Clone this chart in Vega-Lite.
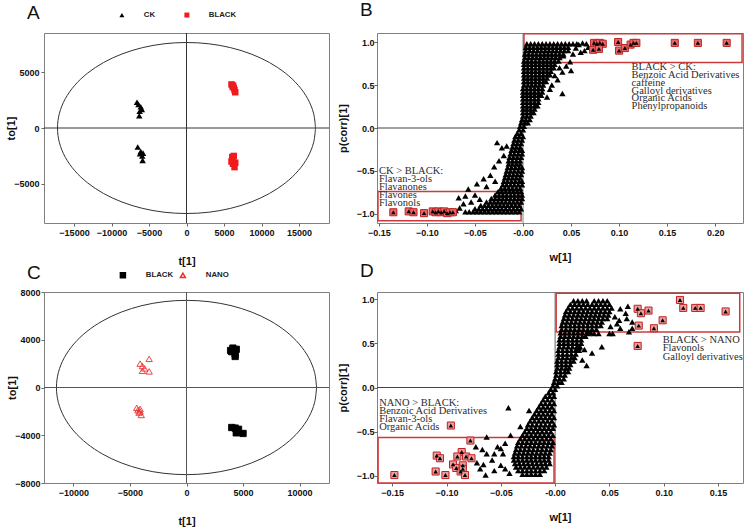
{
"$schema": "https://vega.github.io/schema/vega-lite/v6.json",
"padding": {"left": 5, "top": 0, "right": 0, "bottom": 0},
"background": "white",
"bounds": "flush",
"columns": 2,
"spacing": {"row": 69, "column": 48},
"resolve": {"scale": {"color": "independent", "shape": "independent", "fill": "independent", "stroke": "independent"}, "legend": {"color": "independent", "shape": "independent", "fill": "independent", "stroke": "independent"}},
"config": {
  "view": {"stroke": "#808080", "strokeWidth": 1},
  "axis": {"grid": false, "domain": false, "labelFont": "Liberation Sans", "labelFontWeight": "bold", "labelFontSize": 9, "labelColor": "#111", "titleFont": "Liberation Sans", "titleFontWeight": "bold", "titleFontSize": 11, "titleColor": "#111", "tickColor": "#666", "tickSize": 3, "labelPadding": 2},
  "title": {"font": "Liberation Sans", "fontSize": 19, "fontWeight": "normal", "anchor": "start", "frame": "group", "color": "#111", "offset": 0},
  "text": {"font": "Liberation Serif", "fontSize": 10.5, "color": "#2b2b2b", "align": "left", "baseline": "middle"}
},
"datasets": {
  "one": [{}],
  "ellA": [{"i":0,"x":17200,"y":0},{"i":1,"x":16939,"y":1328},{"i":2,"x":16163,"y":2616},{"i":3,"x":14895,"y":3825},{"i":4,"x":13175,"y":4917},{"i":5,"x":11056,"y":5860},{"i":6,"x":8600,"y":6625},{"i":7,"x":5882,"y":7189},{"i":8,"x":2986,"y":7534},{"i":9,"x":0,"y":7650},{"i":10,"x":-2986,"y":7534},{"i":11,"x":-5882,"y":7189},{"i":12,"x":-8600,"y":6625},{"i":13,"x":-11056,"y":5860},{"i":14,"x":-13175,"y":4917},{"i":15,"x":-14895,"y":3825},{"i":16,"x":-16163,"y":2616},{"i":17,"x":-16939,"y":1328},{"i":18,"x":-17200,"y":0},{"i":19,"x":-16939,"y":-1328},{"i":20,"x":-16163,"y":-2616},{"i":21,"x":-14895,"y":-3825},{"i":22,"x":-13175,"y":-4917},{"i":23,"x":-11056,"y":-5860},{"i":24,"x":-8600,"y":-6625},{"i":25,"x":-5882,"y":-7189},{"i":26,"x":-2986,"y":-7534},{"i":27,"x":0,"y":-7650},{"i":28,"x":2986,"y":-7534},{"i":29,"x":5882,"y":-7189},{"i":30,"x":8600,"y":-6625},{"i":31,"x":11056,"y":-5860},{"i":32,"x":13175,"y":-4917},{"i":33,"x":14895,"y":-3825},{"i":34,"x":16163,"y":-2616},{"i":35,"x":16939,"y":-1328},{"i":36,"x":17200,"y":0}],
  "ellC": [{"i":0,"x":11500,"y":0},{"i":1,"x":11325,"y":1267},{"i":2,"x":10807,"y":2497},{"i":3,"x":9959,"y":3650},{"i":4,"x":8809,"y":4692},{"i":5,"x":7392,"y":5592},{"i":6,"x":5750,"y":6322},{"i":7,"x":3933,"y":6860},{"i":8,"x":1996,"y":7189},{"i":9,"x":0,"y":7300},{"i":10,"x":-1996,"y":7189},{"i":11,"x":-3933,"y":6860},{"i":12,"x":-5750,"y":6322},{"i":13,"x":-7392,"y":5592},{"i":14,"x":-8809,"y":4692},{"i":15,"x":-9959,"y":3650},{"i":16,"x":-10807,"y":2497},{"i":17,"x":-11325,"y":1267},{"i":18,"x":-11500,"y":0},{"i":19,"x":-11325,"y":-1267},{"i":20,"x":-10807,"y":-2497},{"i":21,"x":-9959,"y":-3650},{"i":22,"x":-8809,"y":-4692},{"i":23,"x":-7392,"y":-5592},{"i":24,"x":-5750,"y":-6322},{"i":25,"x":-3933,"y":-6860},{"i":26,"x":-1996,"y":-7189},{"i":27,"x":0,"y":-7300},{"i":28,"x":1996,"y":-7189},{"i":29,"x":3933,"y":-6860},{"i":30,"x":5750,"y":-6322},{"i":31,"x":7392,"y":-5592},{"i":32,"x":8809,"y":-4692},{"i":33,"x":9959,"y":-3650},{"i":34,"x":10807,"y":-2497},{"i":35,"x":11325,"y":-1267},{"i":36,"x":11500,"y":0}],
  "ptsA": [{"x":-6600,"y":2300,"g":"CK"},{"x":-6400,"y":2100,"g":"CK"},{"x":-6100,"y":1900,"g":"CK"},{"x":-5950,"y":1650,"g":"CK"},{"x":-6250,"y":1500,"g":"CK"},{"x":-6300,"y":1100,"g":"CK"},{"x":-6500,"y":-1700,"g":"CK"},{"x":-6100,"y":-2100,"g":"CK"},{"x":-5800,"y":-2250,"g":"CK"},{"x":-5900,"y":-2500,"g":"CK"},{"x":-5850,"y":-2900,"g":"CK"},{"x":-6200,"y":-2300,"g":"CK"},{"x":6000,"y":3900,"g":"BLACK"},{"x":6200,"y":3800,"g":"BLACK"},{"x":6300,"y":3600,"g":"BLACK"},{"x":6400,"y":3400,"g":"BLACK"},{"x":6500,"y":3200,"g":"BLACK"},{"x":6150,"y":3700,"g":"BLACK"},{"x":6100,"y":-2600,"g":"BLACK"},{"x":6300,"y":-2500,"g":"BLACK"},{"x":6000,"y":-3000,"g":"BLACK"},{"x":6200,"y":-3200,"g":"BLACK"},{"x":6500,"y":-3100,"g":"BLACK"},{"x":6400,"y":-3500,"g":"BLACK"},{"x":6150,"y":-2900,"g":"BLACK"}],
  "ptsC": [{"x":3900,"y":3100,"g":"BLACK"},{"x":4100,"y":3300,"g":"BLACK"},{"x":4400,"y":3200,"g":"BLACK"},{"x":4300,"y":2800,"g":"BLACK"},{"x":4300,"y":2600,"g":"BLACK"},{"x":4000,"y":3000,"g":"BLACK"},{"x":4000,"y":-3350,"g":"BLACK"},{"x":4300,"y":-3400,"g":"BLACK"},{"x":4500,"y":-3600,"g":"BLACK"},{"x":4400,"y":-3800,"g":"BLACK"},{"x":5000,"y":-3850,"g":"BLACK"},{"x":4600,"y":-3500,"g":"BLACK"},{"x":-4100,"y":2000,"g":"NANO"},{"x":-3900,"y":1800,"g":"NANO"},{"x":-3700,"y":1600,"g":"NANO"},{"x":-3900,"y":1400,"g":"NANO"},{"x":-3300,"y":2400,"g":"NANO"},{"x":-3300,"y":1350,"g":"NANO"},{"x":-4400,"y":-1700,"g":"NANO"},{"x":-4100,"y":-1800,"g":"NANO"},{"x":-4200,"y":-2100,"g":"NANO"},{"x":-4000,"y":-2300,"g":"NANO"},{"x":-4300,"y":-1900,"g":"NANO"},{"x":-4100,"y":-2000,"g":"NANO"}],
  "bBlack": [
{"x":-0.003,"y":0.02},{"x":0.001,"y":0.02},
{"x":-0.002,"y":0.06},{"x":0.002,"y":0.06},{"x":0.005,"y":0.06},
{"x":-0.001,"y":0.1},{"x":0.003,"y":0.1},{"x":0.007,"y":0.1},
{"x":0,"y":0.14},{"x":0.004,"y":0.14},{"x":0.008,"y":0.14},
{"x":0,"y":0.18},{"x":0.004,"y":0.18},{"x":0.008,"y":0.18},{"x":0.011,"y":0.18},
{"x":0,"y":0.22},{"x":0.004,"y":0.22},{"x":0.008,"y":0.22},{"x":0.012,"y":0.22},
{"x":0,"y":0.26},{"x":0.004,"y":0.26},{"x":0.008,"y":0.26},{"x":0.012,"y":0.26},{"x":0.015,"y":0.26},
{"x":0,"y":0.3},{"x":0.004,"y":0.3},{"x":0.008,"y":0.3},{"x":0.012,"y":0.3},{"x":0.016,"y":0.3},
{"x":0,"y":0.34},{"x":0.004,"y":0.34},{"x":0.008,"y":0.34},{"x":0.012,"y":0.34},{"x":0.016,"y":0.34},
{"x":0,"y":0.38},{"x":0.004,"y":0.38},{"x":0.008,"y":0.38},{"x":0.012,"y":0.38},{"x":0.016,"y":0.38},{"x":0.019,"y":0.38},
{"x":0,"y":0.42},{"x":0.004,"y":0.42},{"x":0.008,"y":0.42},{"x":0.012,"y":0.42},{"x":0.016,"y":0.42},{"x":0.02,"y":0.42},
{"x":0,"y":0.46},{"x":0.004,"y":0.46},{"x":0.008,"y":0.46},{"x":0.012,"y":0.46},{"x":0.016,"y":0.46},{"x":0.02,"y":0.46},
{"x":0.001,"y":0.5},{"x":0.005,"y":0.5},{"x":0.009,"y":0.5},{"x":0.013,"y":0.5},{"x":0.017,"y":0.5},{"x":0.021,"y":0.5},
{"x":0.001,"y":0.54},{"x":0.005,"y":0.54},{"x":0.009,"y":0.54},{"x":0.013,"y":0.54},{"x":0.017,"y":0.54},{"x":0.021,"y":0.54},{"x":0.024,"y":0.54},
{"x":0.001,"y":0.58},{"x":0.005,"y":0.58},{"x":0.009,"y":0.58},{"x":0.013,"y":0.58},{"x":0.017,"y":0.58},{"x":0.021,"y":0.58},{"x":0.025,"y":0.58},
{"x":0.001,"y":0.62},{"x":0.005,"y":0.62},{"x":0.009,"y":0.62},{"x":0.013,"y":0.62},{"x":0.017,"y":0.62},{"x":0.021,"y":0.62},{"x":0.025,"y":0.62},{"x":0.028,"y":0.62},
{"x":0.001,"y":0.66},{"x":0.005,"y":0.66},{"x":0.009,"y":0.66},{"x":0.013,"y":0.66},{"x":0.017,"y":0.66},{"x":0.021,"y":0.66},{"x":0.025,"y":0.66},{"x":0.029,"y":0.66},
{"x":0.001,"y":0.7},{"x":0.005,"y":0.7},{"x":0.009,"y":0.7},{"x":0.013,"y":0.7},{"x":0.017,"y":0.7},{"x":0.021,"y":0.7},{"x":0.025,"y":0.7},{"x":0.029,"y":0.7},{"x":0.032,"y":0.7},
{"x":0.001,"y":0.74},{"x":0.005,"y":0.74},{"x":0.009,"y":0.74},{"x":0.013,"y":0.74},{"x":0.017,"y":0.74},{"x":0.021,"y":0.74},{"x":0.025,"y":0.74},{"x":0.029,"y":0.74},{"x":0.033,"y":0.74},
{"x":0.001,"y":0.78},{"x":0.005,"y":0.78},{"x":0.009,"y":0.78},{"x":0.013,"y":0.78},{"x":0.017,"y":0.78},{"x":0.021,"y":0.78},{"x":0.025,"y":0.78},{"x":0.029,"y":0.78},{"x":0.033,"y":0.78},{"x":0.037,"y":0.78},
{"x":0.002,"y":0.82},{"x":0.006,"y":0.82},{"x":0.01,"y":0.82},{"x":0.014,"y":0.82},{"x":0.018,"y":0.82},{"x":0.022,"y":0.82},{"x":0.026,"y":0.82},{"x":0.03,"y":0.82},{"x":0.034,"y":0.82},{"x":0.038,"y":0.82},
{"x":0.002,"y":0.86},{"x":0.006,"y":0.86},{"x":0.01,"y":0.86},{"x":0.014,"y":0.86},{"x":0.018,"y":0.86},{"x":0.022,"y":0.86},{"x":0.026,"y":0.86},{"x":0.03,"y":0.86},{"x":0.034,"y":0.86},{"x":0.038,"y":0.86},{"x":0.042,"y":0.86},
{"x":0.003,"y":0.9},{"x":0.007,"y":0.9},{"x":0.011,"y":0.9},{"x":0.015,"y":0.9},{"x":0.019,"y":0.9},{"x":0.023,"y":0.9},{"x":0.027,"y":0.9},{"x":0.031,"y":0.9},{"x":0.035,"y":0.9},{"x":0.039,"y":0.9},{"x":0.043,"y":0.9},{"x":0.047,"y":0.9},
{"x":0.003,"y":0.94},{"x":0.007,"y":0.94},{"x":0.011,"y":0.94},{"x":0.015,"y":0.94},{"x":0.019,"y":0.94},{"x":0.023,"y":0.94},{"x":0.027,"y":0.94},{"x":0.031,"y":0.94},{"x":0.035,"y":0.94},{"x":0.039,"y":0.94},{"x":0.043,"y":0.94},{"x":0.047,"y":0.94},
{"x":0.004,"y":0.98},{"x":0.008,"y":0.98},{"x":0.012,"y":0.98},{"x":0.016,"y":0.98},{"x":0.02,"y":0.98},{"x":0.024,"y":0.98},{"x":0.028,"y":0.98},{"x":0.032,"y":0.98},{"x":0.036,"y":0.98},{"x":0.04,"y":0.98},{"x":0.044,"y":0.98},{"x":0.048,"y":0.98},{"x":0.052,"y":0.98},{"x":0.056,"y":0.98},
{"x":0.041,"y":0.4},{"x":0.05,"y":0.67},{"x":0.041,"y":0.65},{"x":0.036,"y":0.56},{"x":0.033,"y":0.61},{"x":0.049,"y":0.77},{"x":0.045,"y":0.72},{"x":0.038,"y":0.7},{"x":0.028,"y":0.45},{"x":0.025,"y":0.36},{"x":0.03,"y":0.5},{"x":0.042,"y":0.84},{"x":0.06,"y":0.88},{"x":0.064,"y":0.9},{"x":0.058,"y":0.97},{"x":0.062,"y":0.99},{"x":0.066,"y":0.98},{"x":0.055,"y":0.93},{"x":0.068,"y":0.94},{"x":0.052,"y":0.86},
{"x":-0.004,"y":-0.02},{"x":0,"y":-0.02},
{"x":-0.006,"y":-0.06},{"x":-0.002,"y":-0.06},
{"x":-0.008,"y":-0.1},{"x":-0.004,"y":-0.1},{"x":0,"y":-0.1},
{"x":-0.009,"y":-0.14},{"x":-0.005,"y":-0.14},{"x":-0.001,"y":-0.14},
{"x":-0.01,"y":-0.18},{"x":-0.006,"y":-0.18},{"x":-0.002,"y":-0.18},
{"x":-0.011,"y":-0.22},{"x":-0.007,"y":-0.22},{"x":-0.003,"y":-0.22},
{"x":-0.012,"y":-0.26},{"x":-0.008,"y":-0.26},{"x":-0.004,"y":-0.26},{"x":-0.001,"y":-0.26},
{"x":-0.013,"y":-0.3},{"x":-0.009,"y":-0.3},{"x":-0.005,"y":-0.3},{"x":-0.001,"y":-0.3},
{"x":-0.014,"y":-0.34},{"x":-0.01,"y":-0.34},{"x":-0.006,"y":-0.34},{"x":-0.002,"y":-0.34},
{"x":-0.015,"y":-0.38},{"x":-0.011,"y":-0.38},{"x":-0.007,"y":-0.38},{"x":-0.003,"y":-0.38},
{"x":-0.015,"y":-0.42},{"x":-0.011,"y":-0.42},{"x":-0.007,"y":-0.42},{"x":-0.003,"y":-0.42},
{"x":-0.016,"y":-0.46},{"x":-0.012,"y":-0.46},{"x":-0.008,"y":-0.46},{"x":-0.004,"y":-0.46},{"x":-0.001,"y":-0.46},
{"x":-0.017,"y":-0.5},{"x":-0.013,"y":-0.5},{"x":-0.009,"y":-0.5},{"x":-0.005,"y":-0.5},{"x":-0.001,"y":-0.5},
{"x":-0.018,"y":-0.54},{"x":-0.014,"y":-0.54},{"x":-0.01,"y":-0.54},{"x":-0.006,"y":-0.54},{"x":-0.002,"y":-0.54},
{"x":-0.019,"y":-0.58},{"x":-0.015,"y":-0.58},{"x":-0.011,"y":-0.58},{"x":-0.007,"y":-0.58},{"x":-0.003,"y":-0.58},
{"x":-0.02,"y":-0.62},{"x":-0.016,"y":-0.62},{"x":-0.012,"y":-0.62},{"x":-0.008,"y":-0.62},{"x":-0.004,"y":-0.62},{"x":-0.001,"y":-0.62},
{"x":-0.021,"y":-0.66},{"x":-0.017,"y":-0.66},{"x":-0.013,"y":-0.66},{"x":-0.009,"y":-0.66},{"x":-0.005,"y":-0.66},{"x":-0.001,"y":-0.66},
{"x":-0.023,"y":-0.7},{"x":-0.019,"y":-0.7},{"x":-0.015,"y":-0.7},{"x":-0.011,"y":-0.7},{"x":-0.007,"y":-0.7},{"x":-0.003,"y":-0.7},
{"x":-0.026,"y":-0.74},{"x":-0.022,"y":-0.74},{"x":-0.018,"y":-0.74},{"x":-0.014,"y":-0.74},{"x":-0.01,"y":-0.74},{"x":-0.006,"y":-0.74},{"x":-0.002,"y":-0.74},
{"x":-0.029,"y":-0.78},{"x":-0.025,"y":-0.78},{"x":-0.021,"y":-0.78},{"x":-0.017,"y":-0.78},{"x":-0.013,"y":-0.78},{"x":-0.009,"y":-0.78},{"x":-0.005,"y":-0.78},{"x":-0.001,"y":-0.78},
{"x":-0.033,"y":-0.82},{"x":-0.029,"y":-0.82},{"x":-0.025,"y":-0.82},{"x":-0.021,"y":-0.82},{"x":-0.017,"y":-0.82},{"x":-0.013,"y":-0.82},{"x":-0.009,"y":-0.82},{"x":-0.005,"y":-0.82},{"x":-0.001,"y":-0.82},
{"x":-0.038,"y":-0.86},{"x":-0.034,"y":-0.86},{"x":-0.03,"y":-0.86},{"x":-0.026,"y":-0.86},{"x":-0.022,"y":-0.86},{"x":-0.018,"y":-0.86},{"x":-0.014,"y":-0.86},{"x":-0.01,"y":-0.86},{"x":-0.006,"y":-0.86},{"x":-0.002,"y":-0.86},
{"x":-0.044,"y":-0.9},{"x":-0.04,"y":-0.9},{"x":-0.036,"y":-0.9},{"x":-0.032,"y":-0.9},{"x":-0.028,"y":-0.9},{"x":-0.024,"y":-0.9},{"x":-0.02,"y":-0.9},{"x":-0.016,"y":-0.9},{"x":-0.012,"y":-0.9},{"x":-0.008,"y":-0.9},{"x":-0.004,"y":-0.9},
{"x":-0.05,"y":-0.94},{"x":-0.046,"y":-0.94},{"x":-0.042,"y":-0.94},{"x":-0.038,"y":-0.94},{"x":-0.034,"y":-0.94},{"x":-0.03,"y":-0.94},{"x":-0.026,"y":-0.94},{"x":-0.022,"y":-0.94},{"x":-0.018,"y":-0.94},{"x":-0.014,"y":-0.94},{"x":-0.01,"y":-0.94},{"x":-0.006,"y":-0.94},{"x":-0.002,"y":-0.94},
{"x":-0.056,"y":-0.975},{"x":-0.052,"y":-0.975},{"x":-0.048,"y":-0.975},{"x":-0.044,"y":-0.975},{"x":-0.04,"y":-0.975},{"x":-0.036,"y":-0.975},{"x":-0.032,"y":-0.975},{"x":-0.028,"y":-0.975},{"x":-0.024,"y":-0.975},{"x":-0.02,"y":-0.975},{"x":-0.016,"y":-0.975},{"x":-0.012,"y":-0.975},{"x":-0.008,"y":-0.975},{"x":-0.004,"y":-0.975},
{"x":-0.027,"y":-0.17},{"x":-0.017,"y":-0.21},{"x":-0.022,"y":-0.23},{"x":-0.048,"y":-0.65},{"x":-0.041,"y":-0.59},{"x":-0.034,"y":-0.55},{"x":-0.057,"y":-0.71},{"x":-0.067,"y":-0.81},{"x":-0.06,"y":-0.79},{"x":-0.03,"y":-0.45},{"x":-0.025,"y":-0.38},{"x":-0.038,"y":-0.68},{"x":-0.05,"y":-0.78},{"x":-0.062,"y":-0.88},{"x":-0.066,"y":-0.93},{"x":-0.07,"y":-0.96},{"x":-0.06,"y":-0.975},{"x":-0.045,"y":-0.83},{"x":-0.054,"y":-0.86},{"x":-0.029,"y":-0.62},{"x":-0.02,"y":-0.32}
  ],
  "bRed": [{"x":0.074,"y":0.99},{"x":0.077,"y":0.98},{"x":0.08,"y":0.99},{"x":0.083,"y":0.98},{"x":0.073,"y":0.91},{"x":0.079,"y":0.92},{"x":0.099,"y":1.0},{"x":0.1,"y":0.9},{"x":0.106,"y":0.93},{"x":0.112,"y":0.97},{"x":0.115,"y":0.99},{"x":0.118,"y":0.99},{"x":0.158,"y":0.99},{"x":0.182,"y":0.99},{"x":0.212,"y":0.99},{"x":-0.135,"y":-0.98},{"x":-0.119,"y":-0.97},{"x":-0.114,"y":-0.98},{"x":-0.103,"y":-0.99},{"x":-0.094,"y":-0.97},{"x":-0.091,"y":-0.98},{"x":-0.088,"y":-0.97},{"x":-0.085,"y":-0.98},{"x":-0.082,"y":-0.97},{"x":-0.079,"y":-0.99},{"x":-0.076,"y":-0.98},{"x":-0.073,"y":-0.98}],
  "bBox": [{"x":0.001,"x2":0.228,"y":1.097,"y2":0.763},{"x":-0.151,"x2":-0.002,"y":-0.74,"y2":-1.078}],
  "bText": [{"x":0.113,"y":0.705,"t":"BLACK > CK:"},{"x":0.113,"y":0.615,"t":"Benzoic Acid Derivatives"},{"x":0.113,"y":0.525,"t":"caffeine"},{"x":0.113,"y":0.435,"t":"Galloyl derivatives"},{"x":0.113,"y":0.345,"t":"Organic Acids"},{"x":0.113,"y":0.255,"t":"Phenylpropanoids"},{"x":-0.15,"y":-0.505,"t":"CK > BLACK:"},{"x":-0.15,"y":-0.593,"t":"Flavan-3-ols"},{"x":-0.15,"y":-0.683,"t":"Flavanones"},{"x":-0.15,"y":-0.776,"t":"Flavones"},{"x":-0.15,"y":-0.872,"t":"Flavonols"}],
  "dBlack": [
{"x":-0.002,"y":0.02},{"x":0.002,"y":0.02},
{"x":-0.001,"y":0.06},{"x":0.003,"y":0.06},{"x":0.006,"y":0.06},
{"x":0,"y":0.1},{"x":0.004,"y":0.1},{"x":0.008,"y":0.1},
{"x":0.001,"y":0.14},{"x":0.005,"y":0.14},{"x":0.009,"y":0.14},
{"x":0.001,"y":0.18},{"x":0.005,"y":0.18},{"x":0.009,"y":0.18},{"x":0.012,"y":0.18},
{"x":0.002,"y":0.22},{"x":0.006,"y":0.22},{"x":0.01,"y":0.22},{"x":0.013,"y":0.22},
{"x":0.002,"y":0.26},{"x":0.006,"y":0.26},{"x":0.01,"y":0.26},{"x":0.014,"y":0.26},
{"x":0.002,"y":0.3},{"x":0.006,"y":0.3},{"x":0.01,"y":0.3},{"x":0.014,"y":0.3},{"x":0.017,"y":0.3},
{"x":0.003,"y":0.34},{"x":0.007,"y":0.34},{"x":0.011,"y":0.34},{"x":0.015,"y":0.34},{"x":0.018,"y":0.34},
{"x":0.003,"y":0.38},{"x":0.007,"y":0.38},{"x":0.011,"y":0.38},{"x":0.015,"y":0.38},{"x":0.019,"y":0.38},
{"x":0.003,"y":0.42},{"x":0.007,"y":0.42},{"x":0.011,"y":0.42},{"x":0.015,"y":0.42},{"x":0.019,"y":0.42},{"x":0.022,"y":0.42},
{"x":0.004,"y":0.46},{"x":0.008,"y":0.46},{"x":0.012,"y":0.46},{"x":0.016,"y":0.46},{"x":0.02,"y":0.46},{"x":0.023,"y":0.46},
{"x":0.004,"y":0.5},{"x":0.008,"y":0.5},{"x":0.012,"y":0.5},{"x":0.016,"y":0.5},{"x":0.02,"y":0.5},{"x":0.024,"y":0.5},
{"x":0.004,"y":0.54},{"x":0.008,"y":0.54},{"x":0.012,"y":0.54},{"x":0.016,"y":0.54},{"x":0.02,"y":0.54},{"x":0.024,"y":0.54},
{"x":0.005,"y":0.58},{"x":0.009,"y":0.58},{"x":0.013,"y":0.58},{"x":0.017,"y":0.58},{"x":0.021,"y":0.58},{"x":0.025,"y":0.58},{"x":0.028,"y":0.58},
{"x":0.005,"y":0.62},{"x":0.009,"y":0.62},{"x":0.013,"y":0.62},{"x":0.017,"y":0.62},{"x":0.021,"y":0.62},{"x":0.025,"y":0.62},{"x":0.029,"y":0.62},{"x":0.033,"y":0.62},
{"x":0.006,"y":0.66},{"x":0.01,"y":0.66},{"x":0.014,"y":0.66},{"x":0.018,"y":0.66},{"x":0.022,"y":0.66},{"x":0.026,"y":0.66},{"x":0.03,"y":0.66},{"x":0.034,"y":0.66},{"x":0.038,"y":0.66},
{"x":0.006,"y":0.7},{"x":0.01,"y":0.7},{"x":0.014,"y":0.7},{"x":0.018,"y":0.7},{"x":0.022,"y":0.7},{"x":0.026,"y":0.7},{"x":0.03,"y":0.7},{"x":0.034,"y":0.7},{"x":0.038,"y":0.7},{"x":0.042,"y":0.7},
{"x":0.007,"y":0.74},{"x":0.011,"y":0.74},{"x":0.015,"y":0.74},{"x":0.019,"y":0.74},{"x":0.023,"y":0.74},{"x":0.027,"y":0.74},{"x":0.031,"y":0.74},{"x":0.035,"y":0.74},{"x":0.039,"y":0.74},{"x":0.043,"y":0.74},
{"x":0.008,"y":0.78},{"x":0.012,"y":0.78},{"x":0.016,"y":0.78},{"x":0.02,"y":0.78},{"x":0.024,"y":0.78},{"x":0.028,"y":0.78},{"x":0.032,"y":0.78},{"x":0.036,"y":0.78},{"x":0.04,"y":0.78},{"x":0.044,"y":0.78},{"x":0.048,"y":0.78},
{"x":0.009,"y":0.82},{"x":0.013,"y":0.82},{"x":0.017,"y":0.82},{"x":0.021,"y":0.82},{"x":0.025,"y":0.82},{"x":0.029,"y":0.82},{"x":0.033,"y":0.82},{"x":0.037,"y":0.82},{"x":0.041,"y":0.82},{"x":0.045,"y":0.82},{"x":0.049,"y":0.82},
{"x":0.01,"y":0.86},{"x":0.014,"y":0.86},{"x":0.018,"y":0.86},{"x":0.022,"y":0.86},{"x":0.026,"y":0.86},{"x":0.03,"y":0.86},{"x":0.034,"y":0.86},{"x":0.038,"y":0.86},{"x":0.042,"y":0.86},{"x":0.046,"y":0.86},{"x":0.05,"y":0.86},
{"x":0.012,"y":0.9},{"x":0.016,"y":0.9},{"x":0.02,"y":0.9},{"x":0.024,"y":0.9},{"x":0.028,"y":0.9},{"x":0.032,"y":0.9},{"x":0.036,"y":0.9},{"x":0.04,"y":0.9},{"x":0.044,"y":0.9},{"x":0.048,"y":0.9},{"x":0.052,"y":0.9},
{"x":0.014,"y":0.94},{"x":0.018,"y":0.94},{"x":0.022,"y":0.94},{"x":0.026,"y":0.94},{"x":0.03,"y":0.94},{"x":0.034,"y":0.94},{"x":0.038,"y":0.94},{"x":0.042,"y":0.94},{"x":0.046,"y":0.94},{"x":0.05,"y":0.94},
{"x":0.017,"y":0.98},{"x":0.021,"y":0.98},{"x":0.025,"y":0.98},{"x":0.029,"y":0.98},{"x":0.036,"y":0.98},{"x":0.04,"y":0.98},{"x":0.044,"y":0.98},{"x":0.048,"y":0.98},
{"x":0.06,"y":0.89},{"x":0.067,"y":0.92},{"x":0.065,"y":0.84},{"x":0.059,"y":0.76},{"x":0.066,"y":0.78},{"x":0.071,"y":0.74},{"x":0.06,"y":0.67},{"x":0.051,"y":0.69},{"x":0.068,"y":0.63},{"x":0.071,"y":0.67},{"x":0.043,"y":0.46},{"x":0.029,"y":0.25},{"x":0.025,"y":0.31},{"x":0.034,"y":0.39},{"x":0.031,"y":0.61},{"x":0.036,"y":0.61},{"x":0.04,"y":0.61},{"x":0.05,"y":0.61},{"x":0.053,"y":0.61},{"x":0.027,"y":0.43},{"x":0.022,"y":0.45},{"x":0.055,"y":0.8},{"x":0.057,"y":0.72},
{"x":-0.004,"y":-0.02},{"x":0,"y":-0.02},
{"x":-0.006,"y":-0.06},{"x":-0.002,"y":-0.06},
{"x":-0.009,"y":-0.1},{"x":-0.005,"y":-0.1},{"x":-0.001,"y":-0.1},
{"x":-0.011,"y":-0.14},{"x":-0.007,"y":-0.14},{"x":-0.003,"y":-0.14},
{"x":-0.013,"y":-0.18},{"x":-0.009,"y":-0.18},{"x":-0.005,"y":-0.18},{"x":-0.001,"y":-0.18},
{"x":-0.015,"y":-0.22},{"x":-0.011,"y":-0.22},{"x":-0.007,"y":-0.22},{"x":-0.003,"y":-0.22},
{"x":-0.017,"y":-0.26},{"x":-0.013,"y":-0.26},{"x":-0.009,"y":-0.26},{"x":-0.005,"y":-0.26},{"x":-0.001,"y":-0.26},
{"x":-0.019,"y":-0.3},{"x":-0.015,"y":-0.3},{"x":-0.011,"y":-0.3},{"x":-0.007,"y":-0.3},{"x":-0.003,"y":-0.3},
{"x":-0.021,"y":-0.34},{"x":-0.017,"y":-0.34},{"x":-0.013,"y":-0.34},{"x":-0.009,"y":-0.34},{"x":-0.005,"y":-0.34},{"x":-0.001,"y":-0.34},
{"x":-0.023,"y":-0.38},{"x":-0.019,"y":-0.38},{"x":-0.015,"y":-0.38},{"x":-0.011,"y":-0.38},{"x":-0.007,"y":-0.38},{"x":-0.003,"y":-0.38},
{"x":-0.025,"y":-0.42},{"x":-0.021,"y":-0.42},{"x":-0.017,"y":-0.42},{"x":-0.013,"y":-0.42},{"x":-0.009,"y":-0.42},{"x":-0.005,"y":-0.42},{"x":-0.001,"y":-0.42},
{"x":-0.026,"y":-0.46},{"x":-0.022,"y":-0.46},{"x":-0.018,"y":-0.46},{"x":-0.014,"y":-0.46},{"x":-0.01,"y":-0.46},{"x":-0.006,"y":-0.46},{"x":-0.002,"y":-0.46},
{"x":-0.028,"y":-0.5},{"x":-0.024,"y":-0.5},{"x":-0.02,"y":-0.5},{"x":-0.016,"y":-0.5},{"x":-0.012,"y":-0.5},{"x":-0.008,"y":-0.5},{"x":-0.004,"y":-0.5},
{"x":-0.03,"y":-0.54},{"x":-0.026,"y":-0.54},{"x":-0.022,"y":-0.54},{"x":-0.018,"y":-0.54},{"x":-0.014,"y":-0.54},{"x":-0.01,"y":-0.54},{"x":-0.006,"y":-0.54},{"x":-0.002,"y":-0.54},
{"x":-0.032,"y":-0.58},{"x":-0.028,"y":-0.58},{"x":-0.024,"y":-0.58},{"x":-0.02,"y":-0.58},{"x":-0.016,"y":-0.58},{"x":-0.012,"y":-0.58},{"x":-0.008,"y":-0.58},{"x":-0.004,"y":-0.58},
{"x":-0.034,"y":-0.62},{"x":-0.03,"y":-0.62},{"x":-0.026,"y":-0.62},{"x":-0.022,"y":-0.62},{"x":-0.018,"y":-0.62},{"x":-0.014,"y":-0.62},{"x":-0.01,"y":-0.62},{"x":-0.006,"y":-0.62},{"x":-0.002,"y":-0.62},
{"x":-0.035,"y":-0.66},{"x":-0.031,"y":-0.66},{"x":-0.027,"y":-0.66},{"x":-0.023,"y":-0.66},{"x":-0.019,"y":-0.66},{"x":-0.015,"y":-0.66},{"x":-0.011,"y":-0.66},{"x":-0.007,"y":-0.66},{"x":-0.003,"y":-0.66},
{"x":-0.036,"y":-0.7},{"x":-0.032,"y":-0.7},{"x":-0.028,"y":-0.7},{"x":-0.024,"y":-0.7},{"x":-0.02,"y":-0.7},{"x":-0.016,"y":-0.7},{"x":-0.012,"y":-0.7},{"x":-0.008,"y":-0.7},{"x":-0.004,"y":-0.7},
{"x":-0.037,"y":-0.74},{"x":-0.033,"y":-0.74},{"x":-0.029,"y":-0.74},{"x":-0.025,"y":-0.74},{"x":-0.021,"y":-0.74},{"x":-0.017,"y":-0.74},{"x":-0.013,"y":-0.74},{"x":-0.009,"y":-0.74},{"x":-0.005,"y":-0.74},
{"x":-0.038,"y":-0.78},{"x":-0.034,"y":-0.78},{"x":-0.03,"y":-0.78},{"x":-0.026,"y":-0.78},{"x":-0.022,"y":-0.78},{"x":-0.018,"y":-0.78},{"x":-0.014,"y":-0.78},{"x":-0.01,"y":-0.78},{"x":-0.006,"y":-0.78},
{"x":-0.038,"y":-0.82},{"x":-0.034,"y":-0.82},{"x":-0.03,"y":-0.82},{"x":-0.026,"y":-0.82},{"x":-0.022,"y":-0.82},{"x":-0.018,"y":-0.82},{"x":-0.014,"y":-0.82},{"x":-0.01,"y":-0.82},{"x":-0.006,"y":-0.82},
{"x":-0.037,"y":-0.86},{"x":-0.033,"y":-0.86},{"x":-0.029,"y":-0.86},{"x":-0.025,"y":-0.86},{"x":-0.021,"y":-0.86},{"x":-0.017,"y":-0.86},{"x":-0.013,"y":-0.86},{"x":-0.009,"y":-0.86},{"x":-0.005,"y":-0.86},
{"x":-0.036,"y":-0.9},{"x":-0.032,"y":-0.9},{"x":-0.028,"y":-0.9},{"x":-0.024,"y":-0.9},{"x":-0.02,"y":-0.9},{"x":-0.016,"y":-0.9},{"x":-0.012,"y":-0.9},{"x":-0.008,"y":-0.9},
{"x":-0.034,"y":-0.94},{"x":-0.03,"y":-0.94},{"x":-0.026,"y":-0.94},{"x":-0.022,"y":-0.94},{"x":-0.018,"y":-0.94},{"x":-0.014,"y":-0.94},{"x":-0.01,"y":-0.94},
{"x":-0.03,"y":-0.98},{"x":-0.026,"y":-0.98},{"x":-0.022,"y":-0.98},{"x":-0.018,"y":-0.98},{"x":-0.014,"y":-0.98},
{"x":-0.043,"y":-0.23},{"x":-0.024,"y":-0.26},{"x":-0.063,"y":-0.56},{"x":-0.073,"y":-0.67},{"x":-0.067,"y":-0.7},{"x":-0.063,"y":-0.75},{"x":-0.056,"y":-0.75},{"x":-0.053,"y":-0.67},{"x":-0.058,"y":-0.82},{"x":-0.066,"y":-0.87},{"x":-0.072,"y":-0.85},{"x":-0.069,"y":-0.92},{"x":-0.064,"y":-0.99},{"x":-0.056,"y":-0.94},{"x":-0.05,"y":-0.88},{"x":-0.048,"y":-0.75},{"x":-0.046,"y":-0.63},{"x":-0.05,"y":-0.69},{"x":-0.042,"y":-0.97},{"x":-0.046,"y":-0.92},{"x":-0.041,"y":-0.54},{"x":-0.032,"y":-0.44}
  ],
  "dRed": [{"x":0.076,"y":0.89},{"x":0.079,"y":0.84},{"x":0.086,"y":0.87},{"x":0.077,"y":0.7},{"x":0.091,"y":0.67},{"x":0.099,"y":0.76},{"x":0.076,"y":0.47},{"x":0.115,"y":0.99},{"x":0.118,"y":0.9},{"x":0.129,"y":0.9},{"x":0.134,"y":0.9},{"x":0.157,"y":0.86},{"x":-0.148,"y":-0.99},{"x":-0.096,"y":-0.43},{"x":-0.078,"y":-0.6},{"x":-0.109,"y":-0.77},{"x":-0.106,"y":-0.8},{"x":-0.11,"y":-0.95},{"x":-0.101,"y":-0.99},{"x":-0.086,"y":-0.73},{"x":-0.09,"y":-0.78},{"x":-0.082,"y":-0.78},{"x":-0.077,"y":-0.8},{"x":-0.094,"y":-0.87},{"x":-0.091,"y":-0.91},{"x":-0.087,"y":-0.95},{"x":-0.085,"y":-0.88},{"x":-0.085,"y":-0.92},{"x":-0.083,"y":-0.99}],
  "dBox": [{"x":0.001,"x2":0.17,"y":1.065,"y2":0.627},{"x":-0.163,"x2":-0.001,"y":-0.566,"y2":-1.079}],
  "dText": [{"x":0.099,"y":0.537,"t":"BLACK > NANO"},{"x":0.099,"y":0.442,"t":"Flavonols"},{"x":0.099,"y":0.348,"t":"Galloyl derivatives"},{"x":-0.162,"y":-0.173,"t":"NANO > BLACK:"},{"x":-0.162,"y":-0.267,"t":"Benzoic Acid Derivatives"},{"x":-0.162,"y":-0.358,"t":"Flavan-3-ols"},{"x":-0.162,"y":-0.448,"t":"Organic Acids"}]
},
"concat": [
  {"width": 285, "height": 190,
   "title": {"text": "A", "dx": -17, "dy": 16},
   "layer": [
    {"data": {"name": "ellA"}, "mark": {"type": "line", "color": "#333", "strokeWidth": 1, "interpolate": "cardinal"},
     "encoding": {
       "x": {"field": "x", "type": "quantitative", "scale": {"domain": [-19000, 19000], "nice": false, "zero": false}, "axis": {"values": [-15000,-10000,-5000,0,5000,10000,15000], "format": "d", "title": "t[1]", "titlePadding": 18}},
       "y": {"field": "y", "type": "quantitative", "scale": {"domain": [-8500, 8500], "nice": false, "zero": false}, "axis": {"values": [-5000,0,5000], "format": "d", "title": "to[1]", "titlePadding": -3}},
       "order": {"field": "i", "type": "quantitative"}}},
    {"data": {"name": "one"}, "mark": {"type": "rule", "color": "#333", "strokeWidth": 1}, "encoding": {"y": {"datum": 0}}},
    {"data": {"name": "one"}, "mark": {"type": "rule", "color": "#333", "strokeWidth": 1}, "encoding": {"x": {"datum": 0}}},
    {"data": {"name": "ptsA"}, "mark": {"type": "point", "filled": true, "size": 42, "opacity": 1},
     "encoding": {
       "x": {"field": "x", "type": "quantitative"},
       "y": {"field": "y", "type": "quantitative"},
       "shape": {"field": "g", "type": "nominal", "scale": {"domain": ["CK", "BLACK"], "range": ["triangle-up", "square"]}, "legend": {"title": null, "orient": "none", "legendX": 74, "legendY": -22, "direction": "horizontal", "labelFont": "Liberation Sans", "labelFontWeight": "bold", "labelFontSize": 7.8, "labelColor": "#222", "labelOffset": 18, "columnPadding": 27, "symbolSize": 25, "padding": 0}},
       "color": {"field": "g", "type": "nominal", "scale": {"domain": ["CK", "BLACK"], "range": ["#000000", "#ee1c1c"]}, "legend": {"title": null, "orient": "none", "legendX": 74, "legendY": -22, "direction": "horizontal", "labelFont": "Liberation Sans", "labelFontWeight": "bold", "labelFontSize": 7.8, "labelColor": "#222", "labelOffset": 18, "columnPadding": 27, "symbolSize": 25, "padding": 0}}}}
   ]},
  {"width": 366, "height": 190,
   "title": {"text": "B", "dx": -17, "dy": -9},
   "layer": [
    {"data": {"name": "one"}, "mark": {"type": "rule", "color": "#444", "strokeWidth": 1}, "encoding": {"y": {"datum": 0, "type": "quantitative", "scale": {"domain": [-1.105, 1.105], "nice": false, "zero": false}, "axis": {"values": [-1,-0.5,0,0.5,1], "format": ".1f", "title": "p(corr)[1]", "titlePadding": 8, "labelPadding": 0}}}},
    {"data": {"name": "one"}, "mark": {"type": "rule", "color": "#888", "strokeWidth": 1}, "encoding": {"x": {"datum": 0, "type": "quantitative", "scale": {"domain": [-0.152, 0.229], "nice": false, "zero": false}, "axis": {"values": [-0.15,-0.1,-0.05,0,0.05,0.1,0.15,0.2], "labelExpr": "datum.value == 0 ? '-0.00' : format(datum.value, '.2f')", "title": "w[1]", "titlePadding": 14}}}},
    {"data": {"name": "bBox"}, "mark": {"type": "rect", "filled": false, "color": "#cc3b3b", "strokeWidth": 1.5},
     "encoding": {"x": {"field": "x", "type": "quantitative"}, "x2": {"field": "x2"}, "y": {"field": "y", "type": "quantitative"}, "y2": {"field": "y2"}}},
    {"data": {"name": "bBlack"}, "mark": {"type": "point", "shape": "triangle-up", "filled": true, "color": "#000", "size": 40, "opacity": 1},
     "encoding": {"x": {"field": "x", "type": "quantitative"}, "y": {"field": "y", "type": "quantitative"}}},
    {"data": {"name": "bRed"}, "mark": {"type": "point", "shape": "square", "filled": true, "fill": "#e06a6a", "stroke": "#c42020", "strokeWidth": 1, "size": 50, "opacity": 1},
     "encoding": {"x": {"field": "x", "type": "quantitative"}, "y": {"field": "y", "type": "quantitative"}}},
    {"data": {"name": "bRed"}, "mark": {"type": "point", "shape": "triangle-up", "filled": true, "color": "#000", "size": 20, "opacity": 1},
     "encoding": {"x": {"field": "x", "type": "quantitative"}, "y": {"field": "y", "type": "quantitative"}}},
    {"data": {"name": "bText"}, "mark": {"type": "text"},
     "encoding": {"x": {"field": "x", "type": "quantitative"}, "y": {"field": "y", "type": "quantitative"}, "text": {"field": "t"}}}
   ]},
  {"width": 285, "height": 191,
   "title": {"text": "C", "dx": -17, "dy": 16},
   "layer": [
    {"data": {"name": "ellC"}, "mark": {"type": "line", "color": "#333", "strokeWidth": 1, "interpolate": "cardinal"},
     "encoding": {
       "x": {"field": "x", "type": "quantitative", "scale": {"domain": [-12600, 12600], "nice": false, "zero": false}, "axis": {"values": [-10000,-5000,0,5000,10000], "format": "d", "title": "t[1]", "titlePadding": 18}},
       "y": {"field": "y", "type": "quantitative", "scale": {"domain": [-8000, 8000], "nice": false, "zero": false}, "axis": {"values": [-8000,-6000,-4000,-2000,0,2000,4000,6000,8000], "format": "d", "title": "to[1]", "titlePadding": -3, "labelPadding": 1}},
       "order": {"field": "i", "type": "quantitative"}}},
    {"data": {"name": "one"}, "mark": {"type": "rule", "color": "#555", "strokeWidth": 1}, "encoding": {"y": {"datum": 0}}},
    {"data": {"name": "one"}, "mark": {"type": "rule", "color": "#555", "strokeWidth": 1}, "encoding": {"x": {"datum": 0}}},
    {"data": {"name": "ptsC"}, "mark": {"type": "point", "size": 40, "opacity": 1, "strokeWidth": 0.9},
     "encoding": {
       "x": {"field": "x", "type": "quantitative"},
       "y": {"field": "y", "type": "quantitative"},
       "shape": {"field": "g", "type": "nominal", "scale": {"domain": ["BLACK", "NANO"], "range": ["square", "triangle-up"]}, "legend": {"title": null, "orient": "none", "legendX": 75, "legendY": -21, "direction": "horizontal", "labelFont": "Liberation Sans", "labelFontWeight": "bold", "labelFontSize": 7.8, "labelColor": "#222", "labelOffset": 19, "columnPadding": 3, "symbolSize": 25, "padding": 0}},
       "fill": {"field": "g", "type": "nominal", "scale": {"domain": ["BLACK", "NANO"], "range": ["#000000", "transparent"]}, "legend": {"title": null, "orient": "none", "legendX": 75, "legendY": -21, "direction": "horizontal", "labelFont": "Liberation Sans", "labelFontWeight": "bold", "labelFontSize": 7.8, "labelColor": "#222", "labelOffset": 19, "columnPadding": 3, "symbolSize": 25, "padding": 0}},
       "stroke": {"field": "g", "type": "nominal", "scale": {"domain": ["BLACK", "NANO"], "range": ["#000000", "#e8312f"]}, "legend": {"title": null, "orient": "none", "legendX": 75, "legendY": -21, "direction": "horizontal", "labelFont": "Liberation Sans", "labelFontWeight": "bold", "labelFontSize": 7.8, "labelColor": "#222", "labelOffset": 19, "columnPadding": 3, "symbolSize": 25, "padding": 0}}}}
   ]},
  {"width": 366, "height": 191,
   "title": {"text": "D", "dx": -17, "dy": -7},
   "layer": [
    {"data": {"name": "one"}, "mark": {"type": "rule", "color": "#444", "strokeWidth": 1}, "encoding": {"y": {"datum": 0, "type": "quantitative", "scale": {"domain": [-1.08, 1.08], "nice": false, "zero": false}, "axis": {"values": [-1,-0.5,0,0.5,1], "format": ".1f", "title": "p(corr)[1]", "titlePadding": 8, "labelPadding": 0}}}},
    {"data": {"name": "one"}, "mark": {"type": "rule", "color": "#666", "strokeWidth": 1}, "encoding": {"x": {"datum": 0, "type": "quantitative", "scale": {"domain": [-0.164, 0.173], "nice": false, "zero": false}, "axis": {"values": [-0.15,-0.1,-0.05,0,0.05,0.1,0.15], "labelExpr": "datum.value == 0 ? '-0.00' : format(datum.value, '.2f')", "title": "w[1]", "titlePadding": 14}}}},
    {"data": {"name": "dBox"}, "mark": {"type": "rect", "filled": false, "color": "#cc3b3b", "strokeWidth": 1.5},
     "encoding": {"x": {"field": "x", "type": "quantitative"}, "x2": {"field": "x2"}, "y": {"field": "y", "type": "quantitative"}, "y2": {"field": "y2"}}},
    {"data": {"name": "dBlack"}, "mark": {"type": "point", "shape": "triangle-up", "filled": true, "color": "#000", "size": 40, "opacity": 1},
     "encoding": {"x": {"field": "x", "type": "quantitative"}, "y": {"field": "y", "type": "quantitative"}}},
    {"data": {"name": "dRed"}, "mark": {"type": "point", "shape": "square", "filled": true, "fill": "#e8a0a0", "stroke": "#c42020", "strokeWidth": 1, "size": 50, "opacity": 1},
     "encoding": {"x": {"field": "x", "type": "quantitative"}, "y": {"field": "y", "type": "quantitative"}}},
    {"data": {"name": "dRed"}, "mark": {"type": "point", "shape": "triangle-up", "filled": true, "color": "#000", "size": 20, "opacity": 1},
     "encoding": {"x": {"field": "x", "type": "quantitative"}, "y": {"field": "y", "type": "quantitative"}}},
    {"data": {"name": "dText"}, "mark": {"type": "text"},
     "encoding": {"x": {"field": "x", "type": "quantitative"}, "y": {"field": "y", "type": "quantitative"}, "text": {"field": "t"}}}
   ]}
]
}
